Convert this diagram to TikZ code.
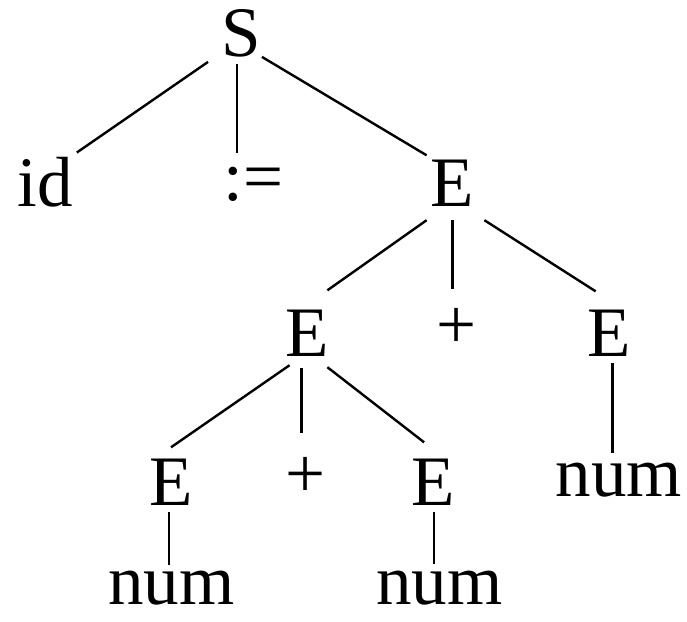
\documentclass[tikz,border=0pt]{standalone}
\usepackage{fontspec}
\setmainfont{Liberation Serif}
\usetikzlibrary{calc}

\tikzset{
  sym/.style={anchor=base, inner sep=4pt, font=\fontsize{71}{80}\selectfont},
  branch/.style={line width=2.4pt}
}

\begin{document}
\begin{tikzpicture}[x=1pt, y=-1pt]
\useasboundingbox (0,0) rectangle (687,621);

% symbols, placed on their baselines
\node[sym] (S) at (241,56) {S};
\node[sym] (id) at (45,206) {id};
\node[sym] (assign) at (253.7,200) {:=};
\node[sym] (E1) at (452.5,206) {E};

\node[sym] (E2) at (307.5,356) {E};
\node[sym] (plus1) at (457,348) {+};
\node[sym] (Er) at (609.5,356) {E};

\node[sym] (E3L) at (171,505) {E};
\node[sym] (plus2) at (305.5,497) {+};
\node[sym] (E3R) at (433,505) {E};
\node[sym] (numR) at (619,496) {num};

\node[sym] (numL) at (171.5,604) {num};
\node[sym] (numM) at (439.5,604) {num};

% branches
\draw[branch] ($(S.south west)+(-9,1)$) -- (id.north east);
\draw[branch] ($(S.south)+(-4,3)$) -- ($(S.south |- id.north)+(-4,0)$);
\draw[branch] ($(S.south east)+(-3,-4)$) -- (E1.north west);

\draw[branch] ($(E1.south west)+(0,10)$) -- ($(E2.north east)+(-6,-15)$);
\draw[branch] ($(E1.south)+(0,10)$) -- ($(E1.south |- plus1.north)+(0,-15)$);
\draw[branch] ($(E1.south east)+(6,10)$) -- ($(Er.north west)+(12,-14)$);

\draw[branch] ($(E2.south west)+(8,5)$) -- ($(E3L.north)+(0,-7)$);
\draw[branch] ($(E2.south)+(-6,8)$) -- ($(E2.south |- plus2.north)+(-6,-20)$);
\draw[branch] ($(E2.south east)+(-6,7)$) -- ($(E3R.north west)+(17,-12)$);
\draw[branch] ($(Er.south)+(3,3)$) -- ($(Er.south |- numR.north)+(3,-5)$);

\draw[branch] ($(E3L.south)+(-2,3)$) -- ($(E3L.south |- numL.north)+(-2,-1)$);
\draw[branch] ($(E3R.south)+(1,3)$) -- ($(E3R.south |- numM.north)+(1,-2)$);
\end{tikzpicture}
\end{document}
